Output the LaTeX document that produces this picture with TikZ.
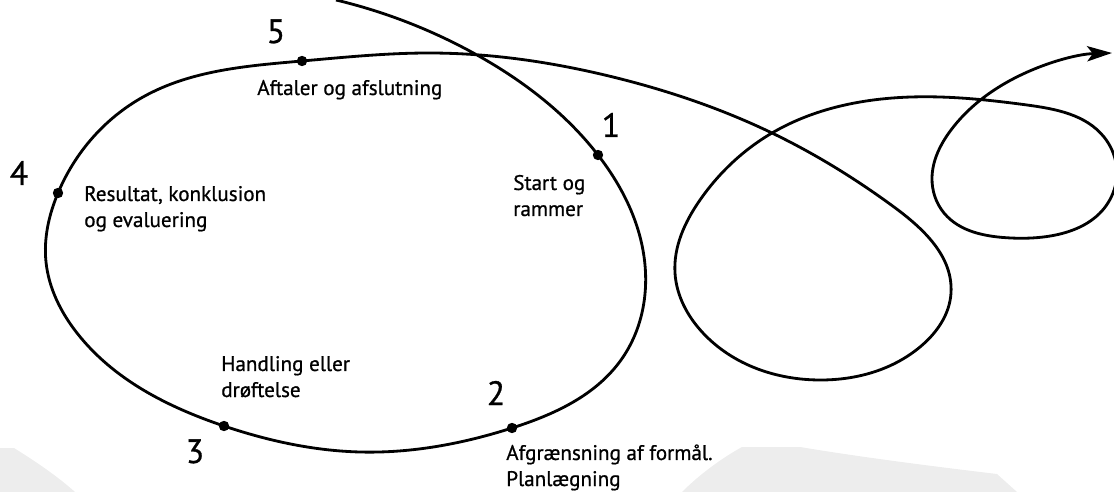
\documentclass[tikz,border=0pt]{standalone}
\usepackage{fontspec}
\setmainfont{PT Sans}[FakeBold=0.8]
\usetikzlibrary{arrows.meta,positioning,calc,hobby}

\begin{document}
\begin{tikzpicture}[x=0.025cm,y=-0.025cm,
  lbl/.style={anchor=base west,align=left,inner sep=0,font=\fontsize{15}{18.5}\selectfont},
  num/.style={anchor=base,inner sep=0,font=\fontsize{24}{28}\selectfont},
  dot/.style={circle,fill=black,inner sep=0,minimum size=2.6mm}]

  \useasboundingbox (0,0) rectangle (1114,492);

  % grey shapes at the bottom
  \fill[black!7] (0,448) -- (14,448) .. controls (30,458) and (55,474) .. (75,492) -- (0,492) -- cycle;
  \fill[black!7] (682,492) .. controls (700,474) and (722,458) .. (742,447) -- (800,447)
    .. controls (860,457) and (930,466) .. (997,474) -- (1017,492) -- cycle;

  \coordinate (p1) at (598,155);
  \coordinate (p2) at (512,428);
  \coordinate (p3) at (224,426);
  \coordinate (p4) at (58,193);
  \coordinate (p5) at (302,61);

  % the spiral
  \draw[use Hobby shortcut,line width=2pt,-{Stealth[length=6.2mm,width=3.8mm,inset=1.4mm]}]
    (336,0) .. (477,55) .. (p1) .. (645,265) .. (621,360) .. (p2) .. (360,452)
    .. (p3) .. (77,333) .. (46,262) .. (p4) .. (143,97) .. (p5) .. (429,53)
    .. (613,77) .. (772,133) .. (894,207) .. (951,293) .. (920,347) .. (820,380)
    .. (703,333) .. (675,273) .. (700,200) .. (772,133) .. (911,97) .. (1027,105)
    .. (1104,137) .. (1113,193) .. (1011,238) .. (944,213) .. (932,178)
    .. (951,130) .. (1011,80) .. (1112,53);

  \foreach \i in {1,...,5}{
    \node[dot] (d\i) at (p\i) {};
  }

  \node[num] (n1) at (611,137) {1};
  \node[num] (n2) at (496,405) {2};
  \node[num] (n3) at (195,463) {3};
  \node[num] (n4) at (19,185) {4};
  \node[num] (n5) at (276,43) {5};

  \node[lbl] (l1) at (513,216) {Start og\\rammer};
  \node[lbl] (l2) at (506,486) {Afgrænsning af formål.\\Planlægning};
  \node[lbl] (l3) at (221,397) {Handling eller\\drøftelse};
  \node[lbl] (l4) at (84,227) {Resultat, konklusion\\og evaluering};
  \node[lbl] (l5) at (257,95) {Aftaler og afslutning};

\end{tikzpicture}
\end{document}
